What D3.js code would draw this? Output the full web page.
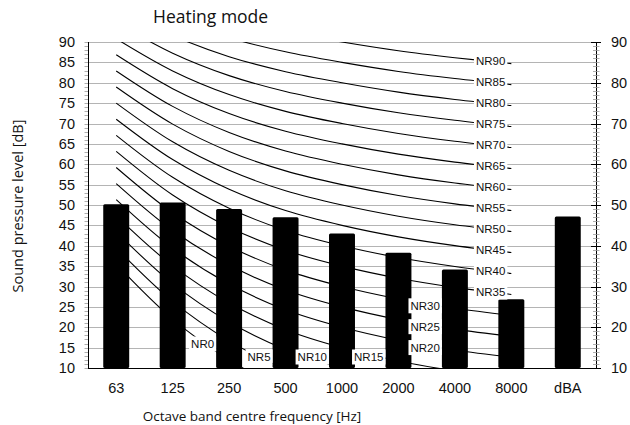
<!DOCTYPE html>
<html>
<head>
<meta charset="utf-8">
<script src="https://cdn.jsdelivr.net/npm/d3@7/dist/d3.min.js"></script>
<style>
  html, body { margin: 0; padding: 0; background: #fff; }
  svg { display: block; }
</style>
</head>
<body>
<svg id="chart" width="630" height="425"></svg>
<script>
// ---------------- data ----------------
const categories = ["63", "125", "250", "500", "1000", "2000", "4000", "8000", "dBA"];
const barValues = [50.2, 50.6, 49.0, 47.0, 43.0, 38.3, 34.2, 26.9, 47.2];

const nrFrequencies = ["63", "125", "250", "500", "1000", "2000", "4000", "8000"];
const nrLevels = [0, 5, 10, 15, 20, 25, 30, 35, 40, 45, 50, 55, 60, 65, 70, 75, 80, 85, 90];
const nrCurves = [
  [35.5, 22.0, 12.0, 4.8, 0, -3.5, -6.1, -8.0],
  [39.45, 26.35, 16.65, 9.67, 5, 1.58, -0.98, -2.85],
  [43.4, 30.7, 21.3, 14.54, 10, 6.65, 4.15, 2.3],
  [47.35, 35.05, 25.95, 19.41, 15, 11.73, 9.28, 7.45],
  [51.3, 39.4, 30.6, 24.28, 20, 16.8, 14.4, 12.6],
  [55.25, 43.75, 35.25, 29.15, 25, 21.88, 19.53, 17.75],
  [59.2, 48.1, 39.9, 34.02, 30, 26.95, 24.65, 22.9],
  [63.15, 52.45, 44.55, 38.89, 35, 32.03, 29.78, 28.05],
  [67.1, 56.8, 49.2, 43.76, 40, 37.1, 34.9, 33.2],
  [71.05, 61.15, 53.85, 48.63, 45, 42.18, 40.03, 38.35],
  [75.0, 65.5, 58.5, 53.5, 50, 47.25, 45.15, 43.5],
  [78.95, 69.85, 63.15, 58.37, 55, 52.33, 50.28, 48.65],
  [82.9, 74.2, 67.8, 63.24, 60, 57.4, 55.4, 53.8],
  [86.85, 78.55, 72.45, 68.11, 65, 62.48, 60.53, 58.95],
  [90.8, 82.9, 77.1, 72.98, 70, 67.55, 65.65, 64.1],
  [94.75, 87.25, 81.75, 77.85, 75, 72.63, 70.78, 69.25],
  [98.7, 91.6, 86.4, 82.72, 80, 77.7, 75.9, 74.4],
  [102.65, 95.95, 91.05, 87.59, 85, 82.78, 81.03, 79.55],
  [106.6, 100.3, 95.7, 92.46, 90, 87.85, 86.15, 84.7]
];
// category at which each NR label sits
const nrLabelCategories = ["250", "500", "1000", "2000", "4000", "4000", "4000",
  "8000", "8000", "8000", "8000", "8000", "8000", "8000", "8000", "8000", "8000", "8000", "8000"];

const leftTickValues = [10, 15, 20, 25, 30, 35, 40, 45, 50, 55, 60, 65, 70, 75, 80, 85, 90];
const rightTickValues = [10, 20, 30, 40, 50, 60, 70, 80, 90];

const titleText = "Heating mode";
const yTitleText = "Sound pressure level [dB]";
const xTitleText = "Octave band centre frequency [Hz]";

// ---------------- layout ----------------
const svg = d3.select("#chart");
const plot = { left: 88, right: 596, top: 42, bottom: 368 };

const x = d3.scalePoint().domain(categories).range([plot.left, plot.right]).padding(0.5);
const step = x.step();
const barW = step * 0.46;
const y = d3.scaleLinear().domain([10, 90]).range([plot.bottom, plot.top]);

svg.append("defs").append("clipPath").attr("id", "plotclip")
  .append("rect")
  .attr("x", plot.left).attr("y", plot.top)
  .attr("width", plot.right - plot.left).attr("height", plot.bottom - plot.top);

// gridlines
svg.append("g").selectAll("line").data(leftTickValues.filter(v => v > 10)).join("line")
  .attr("x1", plot.left).attr("x2", plot.right)
  .attr("y1", d => Math.round(y(d)) + 0.5).attr("y2", d => Math.round(y(d)) + 0.5)
  .attr("stroke", "#b4b4b4").attr("stroke-width", 1);

// NR curves
const line = d3.line()
  .x((d, i) => x(nrFrequencies[i]))
  .y(d => y(d))
  .curve(d3.curveCatmullRom.alpha(0.5));

svg.append("g").attr("clip-path", "url(#plotclip)")
  .selectAll("path").data(nrCurves).join("path")
  .attr("d", d => line(d))
  .attr("fill", "none").attr("stroke", "#000").attr("stroke-width", 1.1);

// bars
svg.append("g").selectAll("rect").data(barValues).join("rect")
  .attr("x", (d, i) => x(categories[i]) - barW / 2)
  .attr("y", d => y(d))
  .attr("width", barW)
  .attr("height", d => y(10) - y(d))
  .attr("rx", 1.5)
  .attr("fill", "#000");

// NR labels
const labelG = svg.append("g")
  .style("font-family", "'Liberation Sans', Arial, sans-serif")
  .style("font-size", "11.5px");
nrLevels.forEach((n, i) => {
  const cat = nrLabelCategories[i];
  const ci = nrFrequencies.indexOf(cat);
  const v = nrCurves[i][ci];
  let cy, rightEdge;
  if (cat === "8000") {
    cy = y(v) - 2.4;
    rightEdge = x(cat) - 4;
  } else {
    cy = Math.min(y(v) - 2.5, plot.bottom - 11);
    if (n === 0) cy -= 13;
    rightEdge = x(cat) - 13;
  }
  const g = labelG.append("g");
  const t = g.append("text")
    .attr("x", rightEdge - 2)
    .attr("y", cy + 4)
    .attr("text-anchor", "end")
    .attr("fill", "#111")
    .text("NR" + n);
  const w = t.node().getComputedTextLength();
  g.insert("rect", "text")
    .attr("x", rightEdge - w - 4)
    .attr("y", cy - 7.5)
    .attr("width", w + 4)
    .attr("height", 15)
    .attr("fill", "#fff");
});

// axes lines
svg.append("line")
  .attr("x1", plot.left + 0.5).attr("x2", plot.left + 0.5)
  .attr("y1", plot.top).attr("y2", plot.bottom)
  .attr("stroke", "#000").attr("stroke-width", 1);
svg.append("line")
  .attr("x1", plot.right + 0.5).attr("x2", plot.right + 0.5)
  .attr("y1", plot.top).attr("y2", plot.bottom)
  .attr("stroke", "#000").attr("stroke-width", 1);
svg.append("line")
  .attr("x1", plot.left).attr("x2", plot.right + 1)
  .attr("y1", plot.bottom + 0.5).attr("y2", plot.bottom + 0.5)
  .attr("stroke", "#000").attr("stroke-width", 1.2);

// minor ticks
const minorVals = d3.range(10, 91, 1);
svg.append("g").selectAll("line").data(minorVals).join("line")
  .attr("x1", plot.left - 3.5).attr("x2", plot.left)
  .attr("y1", d => Math.round(y(d)) + 0.5).attr("y2", d => Math.round(y(d)) + 0.5)
  .attr("stroke", "#999").attr("stroke-width", 0.8);
svg.append("g").selectAll("line").data(minorVals).join("line")
  .attr("x1", plot.right - 3).attr("x2", plot.right + 3.5)
  .attr("y1", d => Math.round(y(d)) + 0.5).attr("y2", d => Math.round(y(d)) + 0.5)
  .attr("stroke", "#999").attr("stroke-width", 0.8);
svg.append("g").selectAll("line").data(rightTickValues).join("line")
  .attr("x1", plot.right - 5).attr("x2", plot.right + 5)
  .attr("y1", d => Math.round(y(d)) + 0.5).attr("y2", d => Math.round(y(d)) + 0.5)
  .attr("stroke", "#000").attr("stroke-width", 1);

// left tick labels
const axisFont = "'Liberation Sans', Arial, sans-serif";
svg.append("g").selectAll("text").data(leftTickValues).join("text")
  .attr("x", 75).attr("y", d => y(d) + 5)
  .attr("text-anchor", "end")
  .style("font-family", axisFont).style("font-size", "14.5px")
  .attr("fill", "#111")
  .text(d => d);
// right tick labels
svg.append("g").selectAll("text").data(rightTickValues).join("text")
  .attr("x", 611).attr("y", d => y(d) + 5)
  .attr("text-anchor", "start")
  .style("font-family", axisFont).style("font-size", "14.5px")
  .attr("fill", "#111")
  .text(d => d);
// category labels
svg.append("g").selectAll("text").data(categories).join("text")
  .attr("x", d => x(d)).attr("y", 393)
  .attr("text-anchor", "middle")
  .style("font-family", axisFont).style("font-size", "14.5px")
  .attr("fill", "#111")
  .text(d => d);

// titles
const titleFont = "'Open Sans', 'Noto Sans', sans-serif";
svg.append("text")
  .attr("x", 153).attr("y", 23)
  .style("font-family", titleFont).style("font-size", "17.5px")
  .attr("fill", "#111")
  .text(titleText);
svg.append("text")
  .attr("transform", "translate(23,206) rotate(-90)")
  .attr("text-anchor", "middle")
  .style("font-family", titleFont).style("font-size", "14.5px")
  .attr("fill", "#111")
  .text(yTitleText);
svg.append("text")
  .attr("x", 252).attr("y", 421)
  .attr("text-anchor", "middle")
  .style("font-family", titleFont).style("font-size", "13.5px")
  .attr("fill", "#111")
  .text(xTitleText);
</script>
</body>
</html>
